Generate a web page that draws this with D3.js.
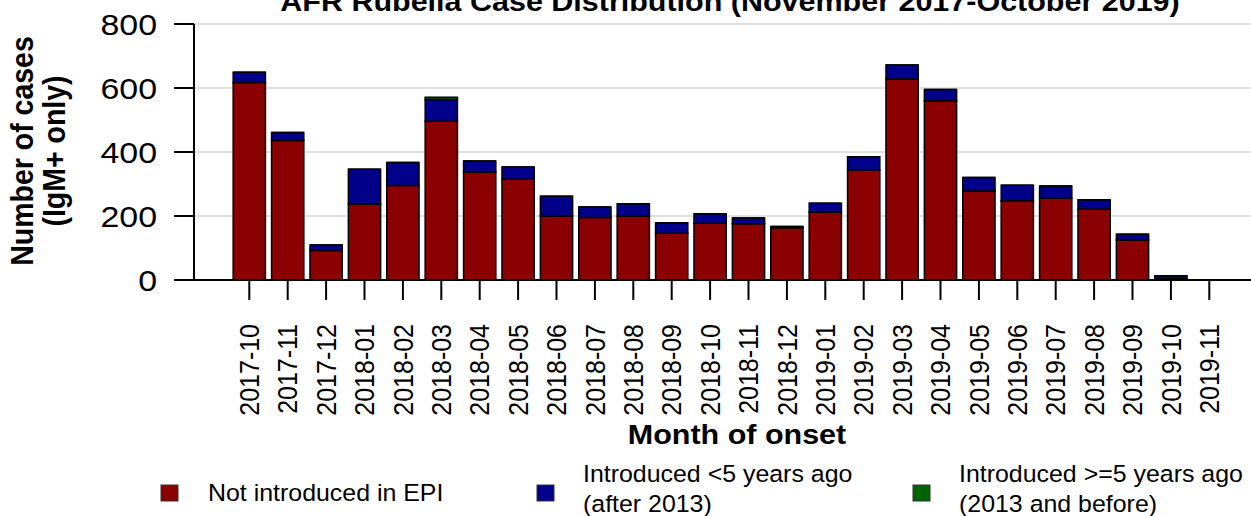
<!DOCTYPE html>
<html>
<head>
<meta charset="utf-8">
<script src="https://cdn.jsdelivr.net/npm/d3@7"></script>
<style>
  html, body { margin: 0; padding: 0; background: #fff; }
  svg { display: block; font-family: "Liberation Sans", Arial, sans-serif; }
</style>
</head>
<body>
<svg id="chart" width="1251" height="516"></svg>
<script>
const months = ["2017-10","2017-11","2017-12","2018-01","2018-02","2018-03","2018-04","2018-05","2018-06","2018-07","2018-08","2018-09","2018-10","2018-11","2018-12","2019-01","2019-02","2019-03","2019-04","2019-05","2019-06","2019-07","2019-08","2019-09","2019-10","2019-11"];
const notIntroduced    = [617,436,92,237,295,496,337,315,200,195,200,146,177,176,163,212,344,628,560,278,248,256,221,125,4,0];
const introducedRecent = [32,25,17,109,72,68,35,38,62,33,38,33,30,18,4,28,41,44,35,42,48,38,30,18,9,0];
const introducedOld    = [0,0,0,0,0,7,0,0,0,0,0,0,0,0,0,0,0,0,0,0,0,0,0,0,0,0];
const yTicks = [0,200,400,600,800];
const seriesNames = ["Not introduced in EPI", ["Introduced <5 years ago","(after 2013)"], ["Introduced >=5 years ago","(2013 and before)"]];
const seriesColors = ["#8b0000","#00008b","#006400"];
const titleText = "AFR Rubella Case Distribution (November 2017-October 2019)";
const xTitle = "Month of onset";
const yTitle = ["Number of cases","(IgM+ only)"];

const SX = 1.07; // horizontal text stretch
const svg = d3.select("#chart");

const x = d3.scaleBand().domain(months).range([230.1, 1228.5]).paddingInner(0.16).paddingOuter(0.08);
const y = d3.scaleLinear().domain([0, 800]).range([280, 24]);

// gridlines
svg.append("g").selectAll("line").data(yTicks.filter(d => d > 0)).join("line")
  .attr("x1", 194).attr("x2", 1251)
  .attr("y1", d => y(d)).attr("y2", d => y(d))
  .attr("stroke", "#d6d6d6").attr("stroke-width", 1.5);

// stacked bars
const rows = months.map((m, i) => ({month: m, s0: notIntroduced[i], s1: introducedRecent[i], s2: introducedOld[i]}));
const stack = d3.stack().keys(["s0","s1","s2"])(rows);
const bw = x.bandwidth();
stack.forEach((layer, li) => {
  svg.append("g").selectAll("path").data(layer).join("path")
    .filter(d => !(d[0] === 0 && d[1] === 0))
    .attr("d", d => {
      const x0 = x(d.data.month), y0 = y(d[0]), y1 = y(d[1]);
      return `M${x0},${y0}V${y1}H${x0 + bw}V${y0}Z`;
    })
    .attr("fill", seriesColors[li])
    .attr("stroke", "#000").attr("stroke-width", 1.5);
});

// y axis
const gy = svg.append("g");
gy.append("line").attr("x1", 194).attr("x2", 194).attr("y1", y(800)).attr("y2", y(0))
  .attr("stroke", "#000").attr("stroke-width", 2);
gy.selectAll("line.tick").data(yTicks).join("line").attr("class","tick")
  .attr("x1", 174).attr("x2", 194).attr("y1", d => y(d)).attr("y2", d => y(d))
  .attr("stroke", "#000").attr("stroke-width", 2);
gy.selectAll("text").data(yTicks).join("text")
  .attr("transform", d => `translate(157,${y(d)}) scale(1.15,1)`)
  .attr("text-anchor", "end").attr("dy", "0.36em")
  .attr("font-size", 29.5).attr("fill", "#000")
  .text(d => d);

// x axis
const gx = svg.append("g");
gx.append("line").attr("x1", 174).attr("x2", 1251).attr("y1", 280).attr("y2", 280)
  .attr("stroke", "#000").attr("stroke-width", 2);
gx.selectAll("line.tick").data(months).join("line").attr("class","tick")
  .attr("x1", d => x(d) + bw / 2).attr("x2", d => x(d) + bw / 2)
  .attr("y1", 280).attr("y2", 300)
  .attr("stroke", "#000").attr("stroke-width", 2);
gx.selectAll("text").data(months).join("text")
  .attr("transform", d => `translate(${x(d) + bw / 2},324) scale(${SX},1) rotate(-90)`)
  .attr("text-anchor", "end").attr("dy", "0.36em")
  .attr("font-size", 25).attr("fill", "#000")
  .text(d => d);

// title
svg.append("text").attr("transform", `translate(730,11) scale(${SX},1)`)
  .attr("text-anchor", "middle").attr("font-size", 28.5).attr("font-weight", "bold")
  .text(titleText);

// x title
svg.append("text").attr("transform", `translate(737,444) scale(${SX},1)`)
  .attr("text-anchor", "middle").attr("font-size", 28.5).attr("font-weight", "bold")
  .text(xTitle);

// y title
yTitle.forEach((t, i) => {
  svg.append("text").attr("transform", `translate(${33 + i * 32},151) scale(${SX},1) rotate(-90)`)
    .attr("text-anchor", "middle").attr("font-size", 28.5).attr("font-weight", "bold")
    .text(t);
});

// legend
const legX = [161, 537, 913];
const legTextX = [208, 583, 959];
const lg = svg.append("g");
seriesNames.forEach((name, i) => {
  lg.append("rect").attr("x", legX[i]).attr("y", 485).attr("width", 17).attr("height", 16)
    .attr("fill", seriesColors[i]).attr("stroke", "#333").attr("stroke-width", 1);
  if (Array.isArray(name)) {
    name.forEach((ln, j) => {
      lg.append("text").attr("transform", `translate(${legTextX[i]},${482 + j * 29.5}) scale(${SX},1)`)
        .attr("font-size", 23.3).text(ln);
    });
  } else {
    lg.append("text").attr("transform", `translate(${legTextX[i]},501) scale(${SX},1)`)
      .attr("font-size", 23.3).text(name);
  }
});
</script>
</body>
</html>
